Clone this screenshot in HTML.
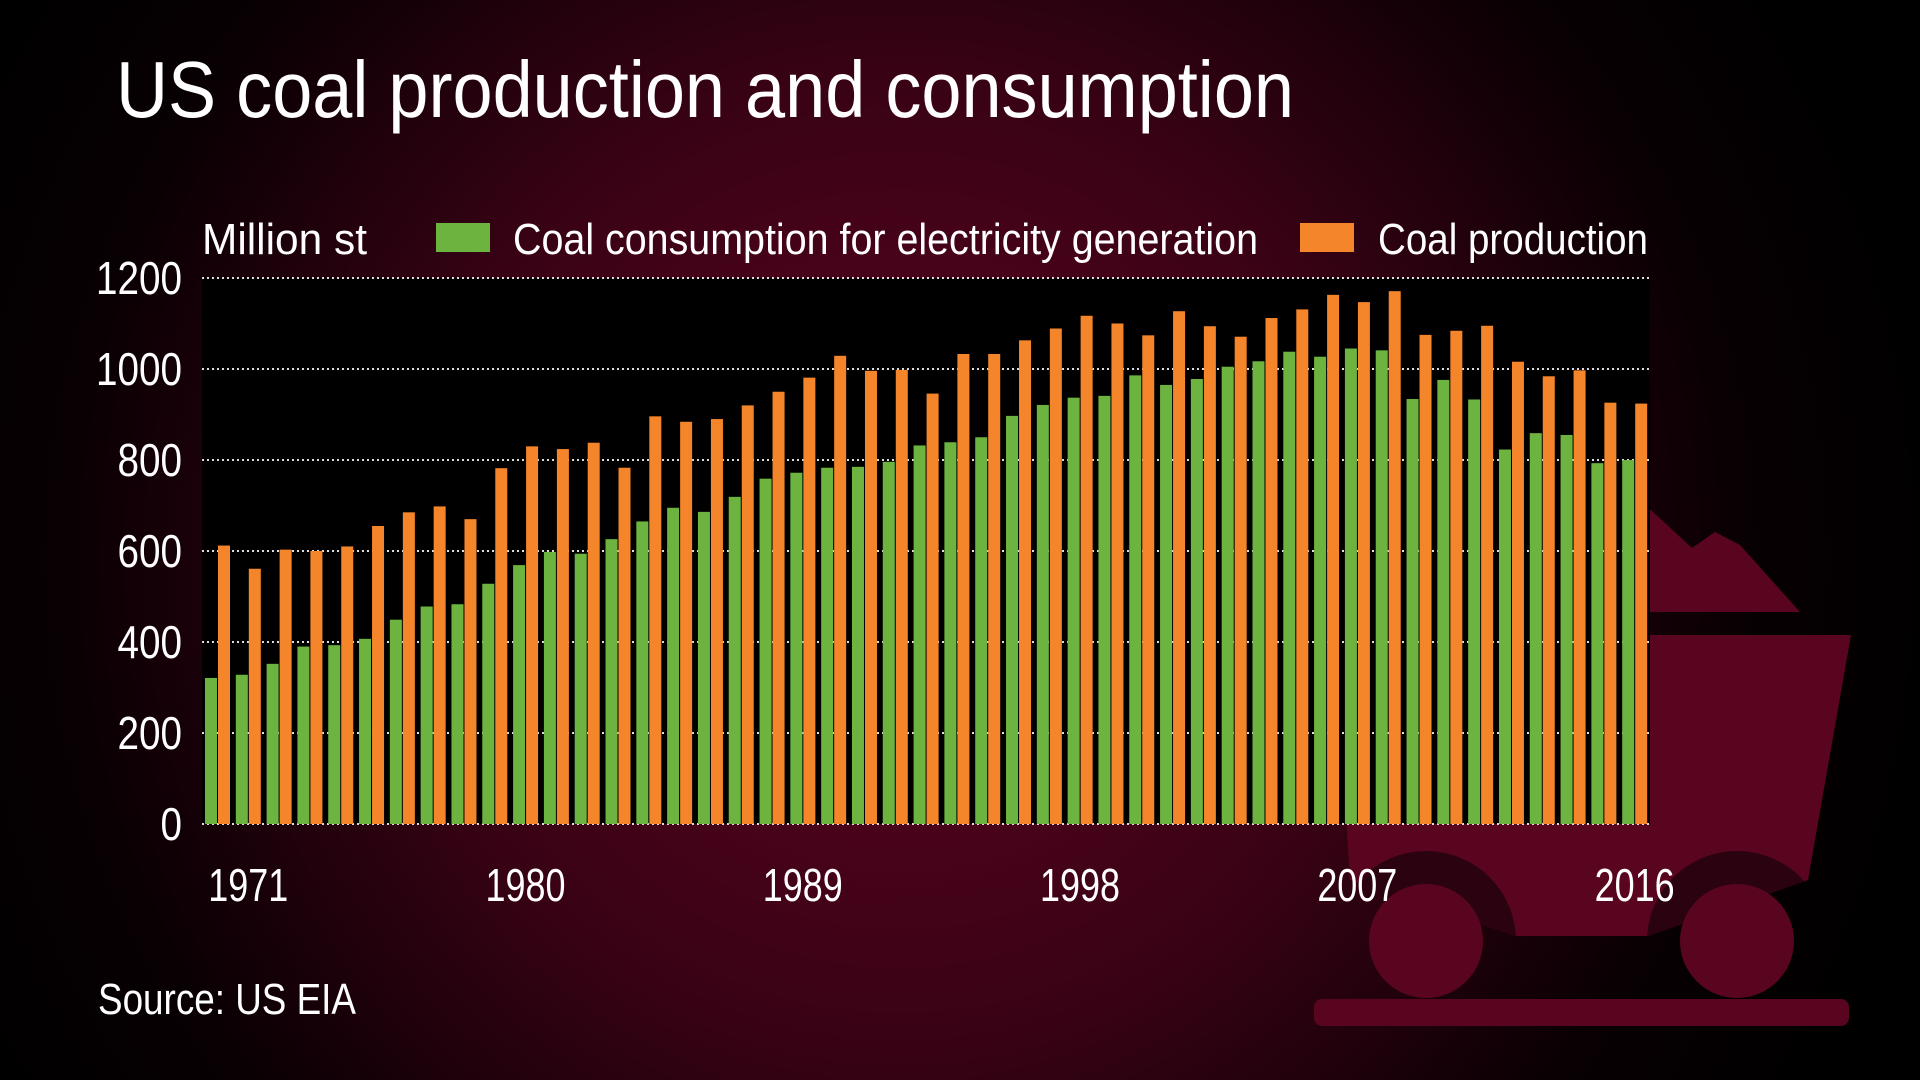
<!DOCTYPE html>
<html><head><meta charset="utf-8"><style>
html,body{margin:0;padding:0;width:1920px;height:1080px;overflow:hidden;background:#000}
svg{display:block}
text{font-family:"Liberation Sans Narrow","Liberation Sans",sans-serif;fill:#fff}
</style></head><body>
<svg id="chart" width="1920" height="1080" viewBox="0 0 1920 1080">
<defs>
<radialGradient id="bg" cx="900" cy="560" r="1050" gradientUnits="userSpaceOnUse">
<stop offset="0" stop-color="#5c0420"/><stop offset="0.45" stop-color="#3a0215"/><stop offset="0.8" stop-color="#080003"/><stop offset="1" stop-color="#000"/>
</radialGradient>
<clipPath id="bodyclip"><polygon points="1335,635 1851,635 1808,880 1648,936 1515,936 1350,880"/></clipPath>
</defs>
<rect width="1920" height="1080" fill="url(#bg)"/>
<g fill="#5a0520">
<polygon points="1640,500 1692,548 1715,532 1740,545 1800,612 1640,612"/>
<polygon points="1335,635 1851,635 1808,880 1648,936 1515,936 1350,880"/>
<g clip-path="url(#bodyclip)">
<circle cx="1426" cy="941" r="90" fill="#2a0210"/>
<circle cx="1737" cy="941" r="90" fill="#2a0210"/>
</g>
<circle cx="1426" cy="941" r="57"/>
<circle cx="1737" cy="941" r="57"/>
<rect x="1314" y="999" width="535" height="27" rx="8"/>
</g>
<text x="116" y="117" font-size="80" textLength="1178" lengthAdjust="spacingAndGlyphs">US coal production and consumption</text>
<text x="202" y="254" font-size="44" textLength="165" lengthAdjust="spacingAndGlyphs">Million st</text>
<rect x="436" y="223" width="54" height="29" fill="#6cb43f"/>
<text x="513" y="254" font-size="44" textLength="745" lengthAdjust="spacingAndGlyphs">Coal consumption for electricity generation</text>
<rect x="1300" y="223" width="54" height="29" fill="#f5852a"/>
<text x="1378" y="254" font-size="44" textLength="270" lengthAdjust="spacingAndGlyphs">Coal production</text>
<rect x="202" y="278" width="1448" height="546" fill="#000"/>
<g id="grid"></g><g id="bars"></g><g id="yticks"></g><g id="xticks"></g>
<text x="98" y="1014" font-size="44" textLength="258" lengthAdjust="spacingAndGlyphs">Source: US EIA</text>
</svg>
<script>
const years=[1970,1971,1972,1973,1974,1975,1976,1977,1978,1979,1980,1981,1982,1983,1984,1985,1986,1987,1988,1989,1990,1991,1992,1993,1994,1995,1996,1997,1998,1999,2000,2001,2002,2003,2004,2005,2006,2007,2008,2009,2010,2011,2012,2013,2014,2015,2016];
const consumption=[321,328,352,390,393,407,449,478,483,528,569,598,594,626,665,695,686,719,759,772,783,785,796,832,839,850,897,921,937,941,986,965,978,1005,1017,1038,1027,1045,1041,934,976,933,823,859,855,793,800];
const production=[612,561,603,600,610,655,685,698,670,782,830,824,838,783,896,884,890,920,950,981,1029,996,998,946,1033,1033,1063,1089,1117,1100,1074,1127,1094,1071,1112,1131,1163,1147,1171,1075,1084,1095,1016,984,997,926,924];
const yTicks=[0,200,400,600,800,1000,1200];
const xLabels=[1971,1980,1989,1998,2007,2016];
const NS='http://www.w3.org/2000/svg';
const L=202,R=1650,T=278,B=824,YMAX=1200;
const step=(R-L)/years.length;
function y(v){return B-(v/YMAX)*(B-T);}
function xg(i){return L+i*step;}
function mk(tag,attrs,parent){const e=document.createElementNS(NS,tag);for(const k in attrs)e.setAttribute(k,attrs[k]);parent.appendChild(e);return e;}
const grid=document.getElementById('grid'),bars=document.getElementById('bars'),yt=document.getElementById('yticks'),xt=document.getElementById('xticks');
yTicks.forEach(v=>{
 const l=mk('line',{x1:L,x2:R,y1:y(v),y2:y(v),stroke:'#ddd','stroke-width':2,'stroke-dasharray':'2 3'},grid);
 
 
 const w=String(v).length*21.5;
 const t=mk('text',{x:182-w,y:y(v)+16,'font-size':46,textLength:w,lengthAdjust:'spacingAndGlyphs'},yt);
 t.textContent=v;
 
 
});
years.forEach((yr,i)=>{
 const g=mk('rect',{x:xg(i)+3,y:y(consumption[i]),width:12,height:B-y(consumption[i]),fill:'#6cb43f'},bars);
 
 
 const o=mk('rect',{x:xg(i)+16,y:y(production[i]),width:12,height:B-y(production[i]),fill:'#f5852a'},bars);
 
 
});
xLabels.forEach(yr=>{
 const i=years.indexOf(yr);
 const t=mk('text',{x:xg(i)+step/2-40,y:901,'font-size':46,textLength:80,lengthAdjust:'spacingAndGlyphs'},xt);
 t.textContent=yr;
 
 
});
</script>
</body></html>
